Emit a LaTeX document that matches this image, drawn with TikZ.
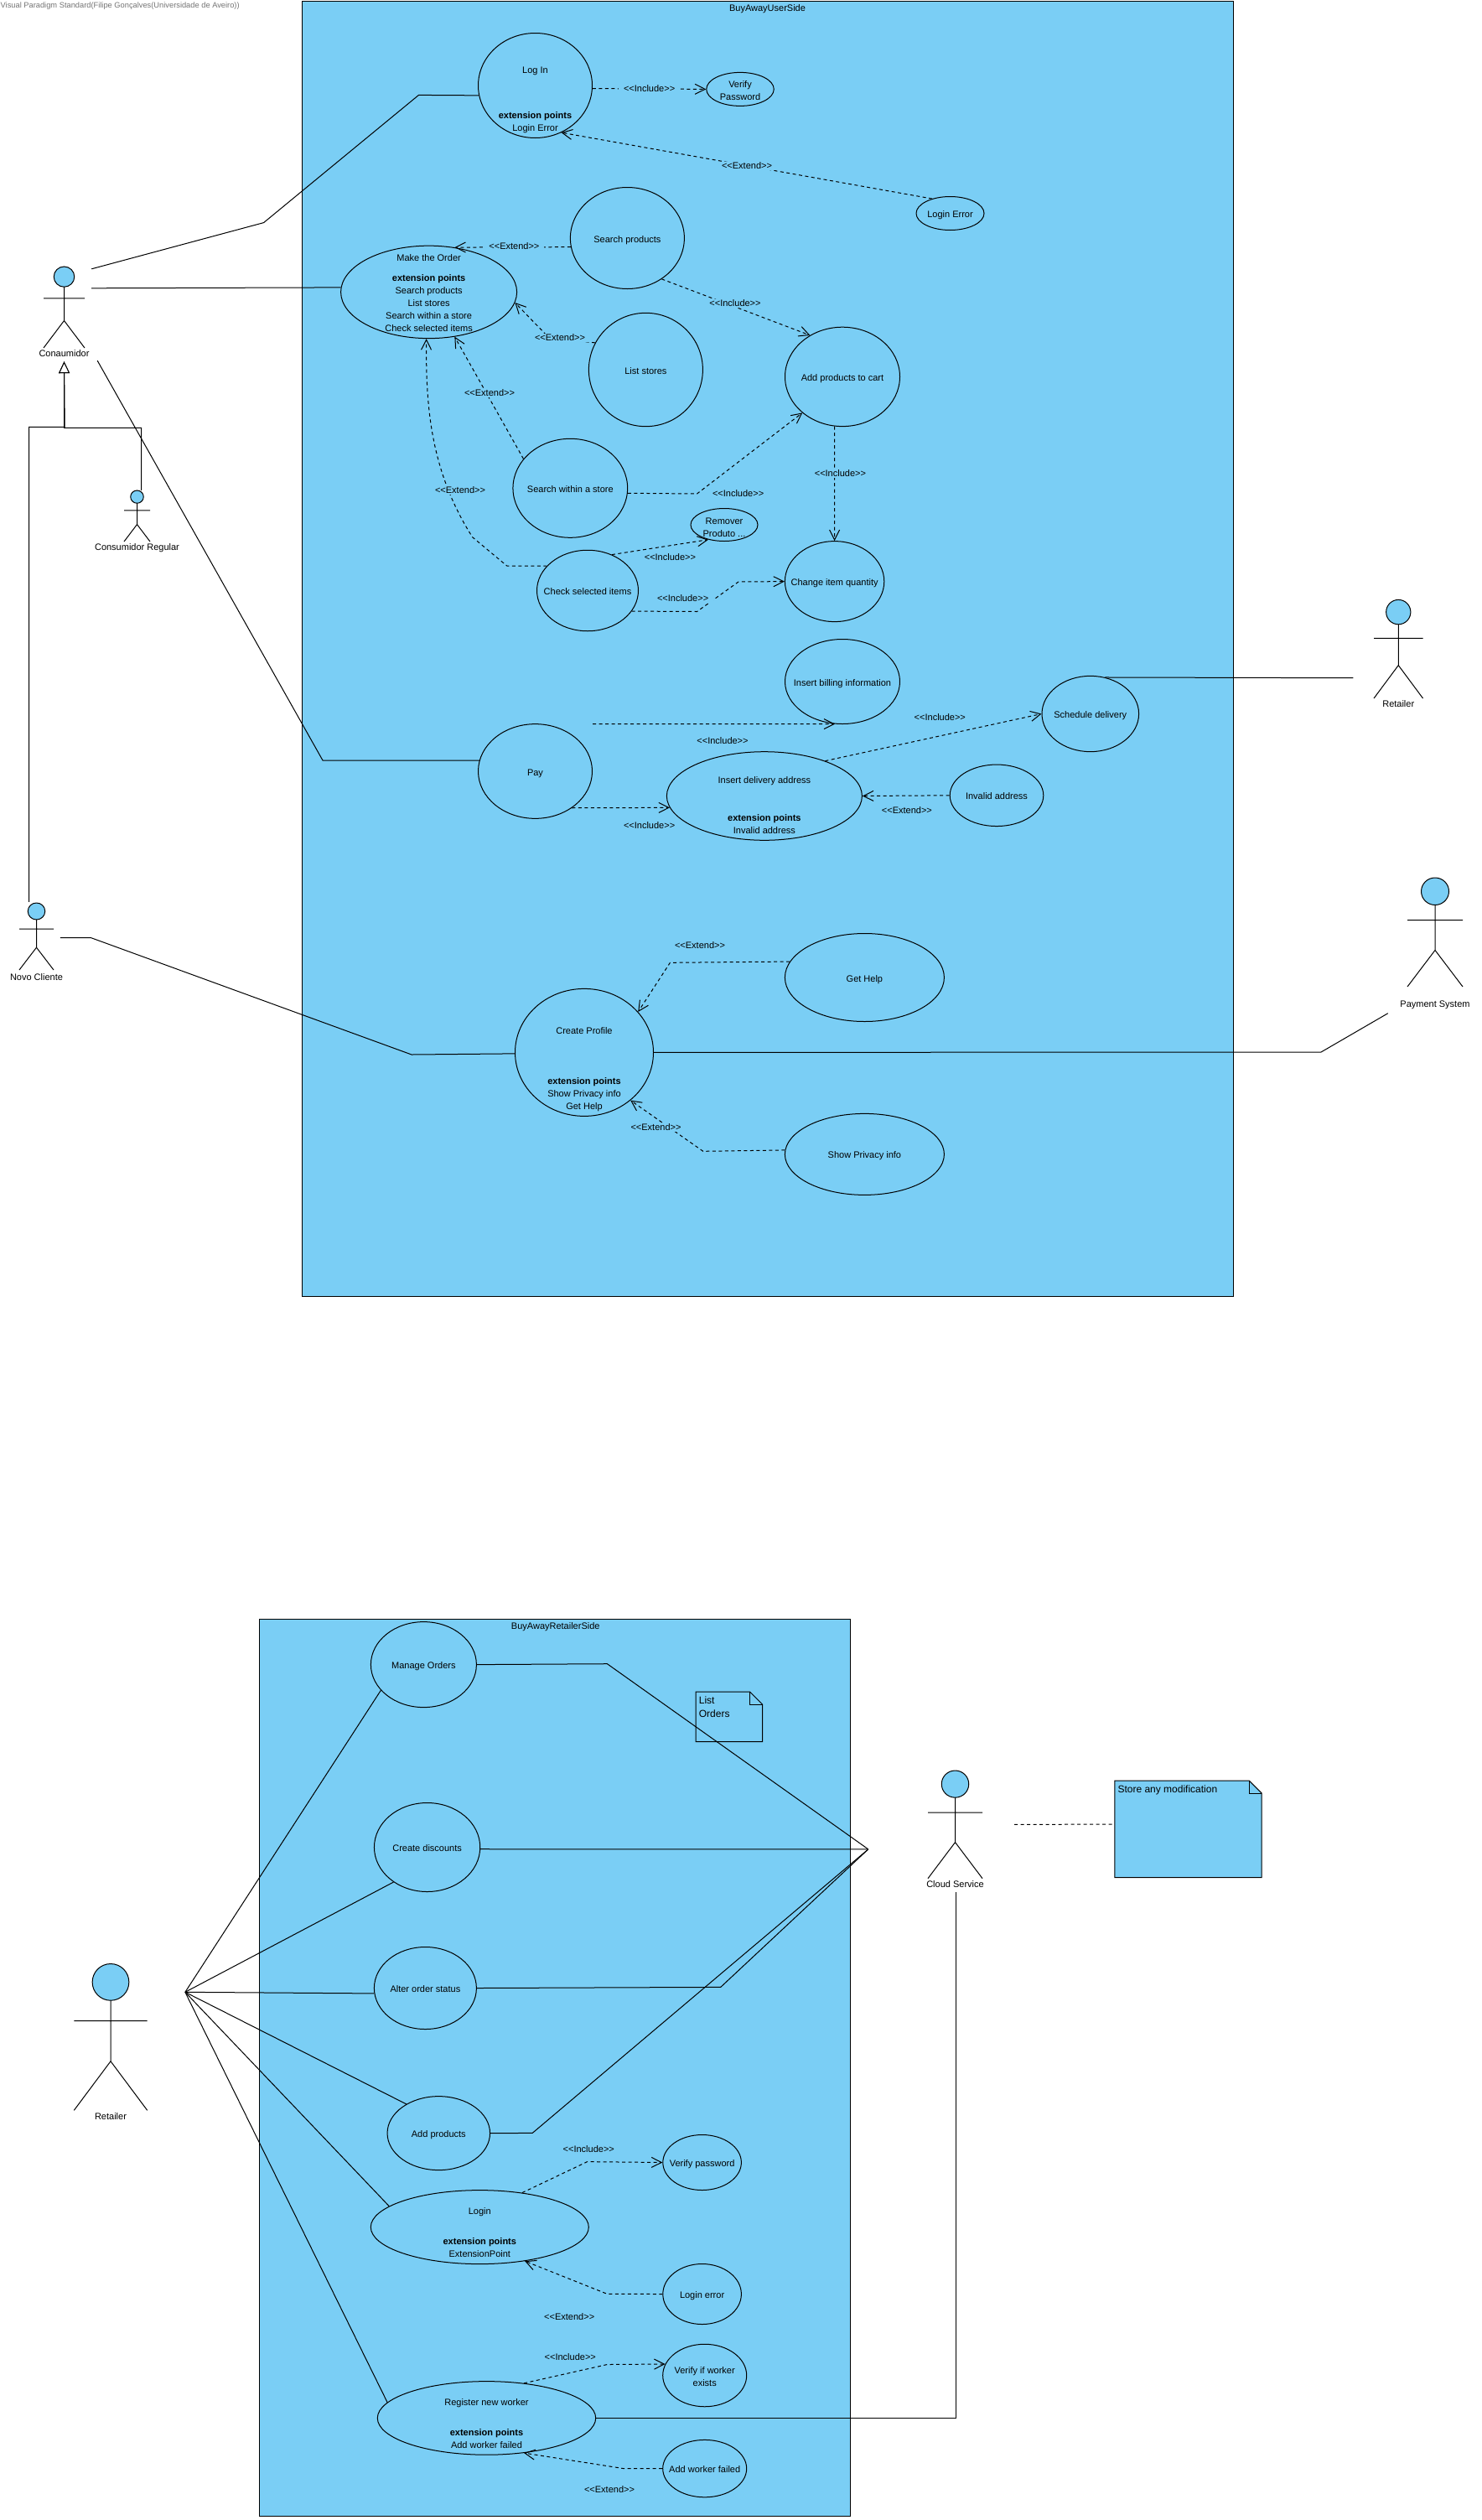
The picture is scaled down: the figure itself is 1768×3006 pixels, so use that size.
\documentclass[tikz,border=0pt]{standalone}
\usepackage{fontspec}
\setmainfont{Liberation Sans}
\usepackage{tikz}
\usetikzlibrary{arrows.meta,positioning,shapes.geometric}
\definecolor{ucblue}{RGB}{122,206,245}
\tikzset{
    myboundary/.style={rectangle,draw=black,fill=ucblue,line width=1pt,inner sep=0pt},
    myusecase/.style={ellipse,draw=black,fill=ucblue,line width=1pt,inner sep=0pt,font=\fontsize{11}{15}\selectfont},
    myactor/.style={rectangle,inner sep=0pt},
    myfigure/.style={draw=black,line width=1pt},
    mytext/.style={inner sep=0pt,font=\fontsize{11}{15}\selectfont},
    mystereo/.style={fill=ucblue,inner xsep=6pt,inner ysep=1pt,font=\fontsize{11}{15}\selectfont},
    mynotetext/.style={inner sep=0pt,align=left,font=\fontsize{12}{16}\selectfont},
    myassoc/.style={draw=black,line width=1pt},
    mydepend/.style={->,>={Straight Barb[length=12pt,width=12pt]},draw=black,line width=1pt,dash pattern=on 4pt off 3.5pt},
    mydashed/.style={draw=black,line width=1pt,dash pattern=on 4pt off 3.5pt},
    mygeneral/.style={-{Triangle[open,fill=white,length=14pt,width=13pt]},draw=black,line width=1pt}
}
\newcommand{\uctext}[2][-5pt]{\makebox[0pt]{\raisebox{#1}[0pt][0pt]{\begin{tabular}[t]{@{}c@{}}#2\end{tabular}}}}
\newcommand{\incl}{<{}<Include>{}>}
\newcommand{\extd}{<{}<Extend>{}>}
\newcommand{\stickactor}[7]{
    \node[myactor, minimum width=#4pt, minimum height=#5pt] (#1) at (#2+#4/2,#3+#5/2) {};
    \node[mytext, below=#7pt of #1] (#1label) {#6};
    \begin{scope}[shift={(#2,#3)},x=#4pt,y=-#5pt]
        \draw[myfigure] (.5,.25) -- (.5,.665) (0,.39) -- (1,.39) (0,1) -- (.5,.665) -- (1,1);
        \draw[myfigure,fill=ucblue] (.5,.125) ellipse [x radius=.25, y radius=.125];
    \end{scope}
}
\newcommand{\foldnote}[6]{
    \node[myactor, minimum width=#4pt, minimum height=#5pt] (#1) at (#2+#4/2,#3+#5/2) {};
    \draw[myfigure,fill=ucblue] (#1.north west) -- ([xshift=-15pt]#1.north east) -- ([yshift=-15pt]#1.north east) -- (#1.south east) -- (#1.south west) -- cycle;
    \draw[myfigure] ([xshift=-15pt]#1.north east) |- ([yshift=-15pt]#1.north east);
    \node[mynotetext, anchor=north west] (#1text) at ([shift={(3.5,5)}]#1.north west) {#6};
}
\begin{document}
\begin{tikzpicture}[x=1pt,y=-1pt]
\useasboundingbox (0,0) rectangle (1768,3006);

\node[inner sep=0pt, anchor=west, text=black!55, font=\fontsize{9.3}{11}\selectfont] (watermark) at (0.5,7) {Visual Paradigm Standard(Filipe Gonçalves(Universidade de Aveiro))};

\node[myboundary, minimum width=1111pt, minimum height=1544.5pt] (userside) at (915.5,774) {};
\node[mytext, below=4pt of userside.north] (usersidetitle) {BuyAwayUserSide};

\node[myusecase, minimum width=136pt, minimum height=125pt] (login) at (638.5,102) {\uctext[15pt]{Log In\\[39pt]\textbf{extension points}\\Login Error}};
\node[myusecase, minimum width=80.5pt, minimum height=40pt] (verifypw) at (883,106.4) {\uctext[2pt]{Verify\\Password}};
\node[myusecase, minimum width=81pt, minimum height=40pt] (loginerr) at (1133.5,254.5) {\uctext{Login Error}};
\node[myusecase, minimum width=136pt, minimum height=121pt] (search) at (748.4,284) {\uctext{Search products}};
\node[myusecase, minimum width=210pt, minimum height=110.5pt] (order) at (511.6,348.4) {\uctext[37pt]{Make the Order\\[9pt]\textbf{extension points}\\Search products\\List stores\\Search within a store\\Check selected items}};
\node[myusecase, minimum width=136pt, minimum height=135.4pt] (liststores) at (770.4,441) {\uctext{List stores}};
\node[myusecase, minimum width=136.7pt, minimum height=118pt] (within) at (680.3,582.3) {\uctext{Search within a store}};
\node[myusecase, minimum width=121pt, minimum height=96.5pt] (checksel) at (701,704.5) {\uctext{Check selected items}};
\node[myusecase, minimum width=80pt, minimum height=39pt] (remover) at (864,626) {\uctext[1pt]{Remover\\Produto ...}};
\node[myusecase, minimum width=137pt, minimum height=118.4pt] (cart) at (1005,449.4) {\uctext{Add products to cart}};
\node[myusecase, minimum width=118.4pt, minimum height=96pt] (quantity) at (995.6,693.6) {\uctext{Change item quantity}};
\node[myusecase, minimum width=137pt, minimum height=101pt] (billing) at (1005,813) {\uctext{Insert billing information}};
\node[myusecase, minimum width=115.6pt, minimum height=90.3pt] (schedule) at (1300.8,851.5) {\uctext{Schedule delivery}};
\node[myusecase, minimum width=233pt, minimum height=105.6pt] (delivery) at (911.9,949.5) {\uctext[15.5pt]{Insert delivery address\\[30pt]\textbf{extension points}\\Invalid address}};
\node[myusecase, minimum width=111.6pt, minimum height=73.5pt] (invalid) at (1189,948.8) {\uctext{Invalid address}};
\node[myusecase, minimum width=136pt, minimum height=112.7pt] (pay) at (638.5,920) {\uctext{Pay}};
\node[myusecase, minimum width=190pt, minimum height=105pt] (gethelp) at (1031.4,1166) {\uctext{Get Help}};
\node[myusecase, minimum width=190pt, minimum height=97pt] (privacy) at (1031.4,1376.9) {\uctext{Show Privacy info}};
\node[myusecase, minimum width=165pt, minimum height=152pt] (profile) at (697,1255.4) {\uctext[22.4pt]{Create Profile\\[45.6pt]\textbf{extension points}\\Show Privacy info\\Get Help}};

\stickactor{conaumidor}{52}{318}{49}{97}{Conaumidor}{2}
\stickactor{regular}{148}{585}{31}{61}{Consumidor Regular}{2}
\stickactor{novo}{23}{1077}{41}{80}{Novo Cliente}{4}
\stickactor{retailertop}{1639}{715.4}{58.5}{117.6}{Retailer}{2}
\stickactor{payment}{1679}{1047}{66}{130}{Payment System}{16}

\draw[mygeneral] ([xshift=5pt]regular.north) |- (76.7,510.3) -- ([yshift=-16pt]conaumidor.south);
\draw[mygeneral] ([shift={(-9,-1)}]novo.north) |- (77.2,509.4) -- ([yshift=-16pt]conaumidor.south);

\draw[myassoc] ([shift={(8,3)}]conaumidor.north east) -- (314.6,265.6) -- (499.5,113.4) -- (login.190);
\draw[myassoc] ([shift={(8,26)}]conaumidor.north east) -- (order.177.4);
\draw[myassoc] ([shift={(15,15)}]conaumidor.south east) -- (385,907) -- (pay.169);
\draw[myassoc] ([shift={(7.6,1.7)}]novo.east) -- (108.8,1118.7) -- (491,1258) -- (profile.181.8);
\draw[myassoc] (profile.east) -- (1576,1255) -- ([shift={(-23,31.5)}]payment.south west);
\draw[myassoc] (schedule.68) -- ([shift={(-24.4,34.5)}]retailertop.west);

\draw[mydepend] (login.-3) -- (verifypw.west);
\draw[mydepend] (loginerr.141.7) -- (login.-61.5);
\draw[mydepend] (search.189.8) -- (order.60);
\draw[mydepend] (search.-50.2) -- (cart.128.6);
\draw[mydepend] (liststores.152.9) -- (655,403) -- (order.-7.1);
\draw[mydepend] (within.148.4) -- (order.-60.4);
\draw[mydepend] (checksel.149) -- (605,675.2) -- (563.7,640.8) .. controls (512,560) and (508,480) .. (order.-93.7);
\draw[mydepend] (within.-5.6) -- (831.5,589) -- (cart.222);
\draw[mydepend] (checksel.56.3) -- (remover.223);
\draw[mydepend] (checksel.-25.8) -- (831.5,729.5) -- (881,694) -- (quantity.west);
\draw[mydepend] (cart.261) -- (quantity.north);
\draw[mydepend] ([shift={(68.5,-56.4)}]pay.center) -- (billing.-100.5);
\draw[mydepend] (pay.-45.7) -- (delivery.187.7);
\draw[mydepend] (delivery.30.9) -- (schedule.west);
\draw[mydepend] (invalid.west) -- (delivery.east);
\draw[mydepend] (gethelp.168.7) -- (799.4,1148.3) -- (profile.37.9);
\draw[mydepend] (privacy.177.8) -- (838.8,1373.3) -- (profile.-46.6);

\node[mystereo] (lblverifypw) at (774.6,106) {\incl};
\node[mystereo] (lblloginerr) at (891,198) {\extd};
\node[mystereo] (lblsearchext) at (613.4,293.2) {\extd};
\node[mystereo] (lblsearchinc) at (877,362) {\incl};
\node[mystereo] (lbllistext) at (668,403) {\extd};
\node[mystereo] (lblwithinext) at (584,469) {\extd};
\node[mystereo] (lblcheckext) at (549,585) {\extd};
\node[mystereo] (lblwithininc) at (880.6,589) {\incl};
\node[mystereo] (lblremover) at (799.4,665) {\incl};
\node[mystereo] (lblquantity) at (814.6,714) {\incl};
\node[mystereo] (lblcart) at (1002.4,565) {\incl};
\node[mystereo] (lblbilling) at (862,884) {\incl};
\node[mystereo] (lbldelivery) at (774.6,984.5) {\incl};
\node[mystereo] (lblschedule) at (1121.3,856) {\incl};
\node[mystereo] (lblinvalid) at (1081.9,967) {\extd};
\node[mystereo] (lblgethelp) at (835,1127.3) {\extd};
\node[mystereo] (lblprivacy) at (782.5,1345) {\extd};

\node[myboundary, minimum width=704.5pt, minimum height=1069.8pt] (retailside) at (661.75,2466.4) {};
\node[mytext, below=4pt of retailside.north, xshift=1pt] (retailsidetitle) {BuyAwayRetailerSide};

\foldnote{listnote}{830.4}{2018.3}{79}{59}{List\\Orders}
\foldnote{storenote}{1330}{2124.3}{175}{115.2}{Store any modification}

\node[myusecase, minimum width=126pt, minimum height=102pt] (orders) at (505.4,1985.6) {\uctext{Manage Orders}};
\node[myusecase, minimum width=126.3pt, minimum height=106pt] (discounts) at (509.6,2203.5) {\uctext{Create discounts}};
\node[myusecase, minimum width=122pt, minimum height=98pt] (alter) at (507.4,2371.5) {\uctext{Alter order status}};
\node[myusecase, minimum width=122.5pt, minimum height=88pt] (addprod) at (523.3,2544.6) {\uctext{Add products}};
\node[myusecase, minimum width=93.6pt, minimum height=66pt] (verifypass) at (837.6,2579.5) {\uctext{Verify password}};
\node[myusecase, minimum width=260pt, minimum height=88pt] (loginr) at (572.3,2656.6) {\uctext[15.3pt]{Login\\[21pt]\textbf{extension points}\\ExtensionPoint}};
\node[myusecase, minimum width=93.6pt, minimum height=72pt] (loginerror) at (837.6,2736.5) {\uctext{Login error}};
\node[myusecase, minimum width=100pt, minimum height=74.5pt] (verifyworker) at (840.7,2833.5) {\uctext[2.3pt]{Verify if worker\\exists}};
\node[myusecase, minimum width=260.4pt, minimum height=87.6pt] (register) at (580.5,2884.4) {\uctext[15pt]{Register new worker\\[21pt]\textbf{extension points}\\Add worker failed}};
\node[myusecase, minimum width=100pt, minimum height=68.4pt] (addfailed) at (840.7,2944.6) {\uctext{Add worker failed}};

\stickactor{retailer}{88.3}{2342.5}{87.4}{174.8}{Retailer}{3}
\stickactor{cloud}{1107}{2112}{65}{128.7}{Cloud Service}{2}

\coordinate (retailerfan) at ([shift={(45,-53.6)}]retailer.east);
\coordinate (cloudjoin) at ([shift={(-71,29.5)}]cloud.west);

\draw[myassoc] (retailerfan) -- (orders.211.1);
\draw[myassoc] (retailerfan) -- (discounts.226.3);
\draw[myassoc] (retailerfan) -- (alter.186.5);
\draw[myassoc] (retailerfan) -- (addprod.138.8);
\draw[myassoc] (retailerfan) -- (loginr.167.2);
\draw[myassoc] (retailerfan) -- (register.171);

\draw[myassoc] (orders.east) -- (724.4,1984.7) -- (cloudjoin);
\draw[myassoc] (discounts.-2.4) -- (cloudjoin);
\draw[myassoc] (alter.east) -- (859.7,2370.4) -- (cloudjoin);
\draw[myassoc] (addprod.east) -- (635.2,2544.4) -- (cloudjoin);
\draw[myassoc] (register.east) -| ([shift={(1,16)}]cloud.south);
\draw[mydashed] ([xshift=37.8pt]cloud.east) -- ([xshift=-2.3pt,yshift=-52pt]storenote.north west);

\draw[mydepend] (loginr.39) -- (700.6,2578.6) -- (verifypass.west);
\draw[mydepend] (loginerror.west) -- (724.3,2736.3) -- (loginr.-37.9);
\draw[mydepend] (register.43.5) -- (724.3,2820.5) -- (verifyworker.164.2);
\draw[mydepend] (addfailed.west) -- (744,2944.6) -- (register.-43.2);

\node[mystereo] (lblverifypass) at (702.3,2563.2) {\incl};
\node[mystereo] (lblloginerror) at (679.2,2763.5) {\extd};
\node[mystereo] (lblverifyworker) at (680.3,2811.4) {\incl};
\node[mystereo] (lbladdfailed) at (727,2969.4) {\extd};

\end{tikzpicture}
\end{document}
